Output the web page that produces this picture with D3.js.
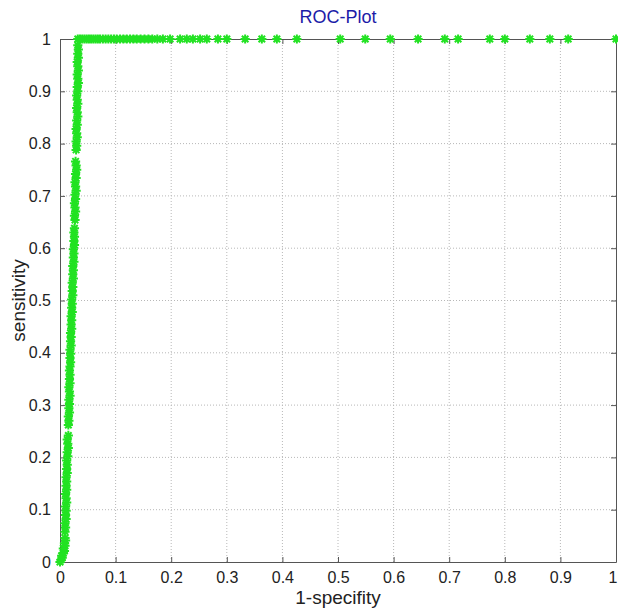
<!DOCTYPE html>
<html>
<head>
<meta charset="utf-8">
<script src="https://cdn.jsdelivr.net/npm/d3@7"></script>
<style>
body{margin:0;background:#fff;}
svg{display:block;font-family:"Liberation Sans",Arial,sans-serif;}
</style>
</head>
<body>
<div id="roc"></div>
<script>
(function(){

const width = 618;
const height = 608;
const margin = {top:39, right:2, bottom:46, left:60};

const ticks = [0,0.1,0.2,0.3,0.4,0.5,0.6,0.7,0.8,0.9,1];

// vertical part of the curve (rising section)
const curveFpr = [
0,0.002,0.004,0.003,0.006,0.008,0.006,0.009,0.008,0.010,0.009,
0.009,0.010,0.009,0.011,0.010,0.011,0.010,0.012,0.011,0.010,0.012,0.011,0.012,0.011,0.013,0.012,0.013,0.012,0.014,0.013,0.015,0.014,0.013,0.015,
0.015,0.016,0.015,0.017,0.016,0.017,0.016,0.018,0.017,0.016,0.018,0.017,0.018,0.017,0.018,0.019,0.018,0.019,0.018,0.020,0.019,0.020,0.019,0.021,0.020,0.021,0.020,0.022,0.021,0.022,0.021,0.023,0.022,0.023,0.022,0.024,0.023,0.024,0.023,0.025,0.024,0.025,0.024,0.026,0.025,0.026,0.025,0.026,
0.027,0.026,0.028,0.027,0.026,0.028,0.027,0.029,0.028,0.027,0.029,0.028,0.030,0.029,0.028,
0.029,0.030,0.029,0.031,0.030,0.029,0.031,0.030,0.032,0.031,0.030,0.032,0.031,0.030,0.032,0.031,0.033,0.032,0.031,0.033,0.032,0.031,0.033,0.032,0.033,0.032
];
const curveTpr = [
0,0.004,0.008,0.012,0.017,0.021,0.026,0.031,0.036,0.041,0.046,
0.058,0.066,0.074,0.082,0.090,0.098,0.106,0.114,0.122,0.130,0.138,0.146,0.154,0.162,0.170,0.178,0.186,0.194,0.202,0.210,0.218,0.226,0.234,0.242,
0.262,0.270,0.278,0.286,0.294,0.302,0.310,0.318,0.326,0.334,0.342,0.350,0.358,0.366,0.374,0.382,0.390,0.398,0.406,0.414,0.422,0.430,0.438,0.446,0.454,0.462,0.470,0.478,0.486,0.494,0.502,0.510,0.518,0.526,0.534,0.542,0.550,0.558,0.566,0.574,0.582,0.590,0.598,0.606,0.614,0.622,0.630,0.638,
0.654,0.662,0.670,0.678,0.686,0.694,0.702,0.710,0.718,0.726,0.734,0.742,0.750,0.758,0.766,
0.788,0.796,0.804,0.812,0.820,0.828,0.836,0.844,0.852,0.860,0.868,0.876,0.884,0.892,0.900,0.908,0.916,0.924,0.932,0.940,0.948,0.956,0.964,0.972,0.980,0.988
];

// points along sensitivity = 1
const topFpr = [
0.032,0.036,0.040,0.044,0.048,0.052,0.056,0.060,0.064,0.068,0.072,0.077,0.082,0.087,0.092,0.097,0.102,0.108,0.114,0.120,0.126,0.132,0.138,0.145,0.152,0.159,0.166,0.175,
0.185,0.198,0.216,0.228,0.239,0.252,0.264,0.284,0.300,0.333,0.363,0.390,0.426,0.504,0.549,0.594,0.644,0.692,0.716,0.773,0.800,0.845,0.881,0.914,1.0
];

const points = curveFpr.map((f,i)=>({fpr:f, tpr:curveTpr[i]}))
.concat(topFpr.map(f=>({fpr:f, tpr:1})));

const w = width - margin.left - margin.right;
const h = height - margin.top - margin.bottom;

const svg = d3.select("#roc")
.append("svg")
.attr("width",width)
.attr("height",height);

const g = svg.append("g")
.attr("transform",`translate(${margin.left},${margin.top})`);

const x = d3.scaleLinear().domain([0,1]).range([0,w]);
const y = d3.scaleLinear().domain([0,1]).range([h,0]);

// grid
g.append("g")
.selectAll("line")
.data(ticks.slice(1,-1))
.enter()
.append("line")
.attr("x1",d=>x(d)).attr("x2",d=>x(d))
.attr("y1",0).attr("y2",h)
.attr("stroke","#b8b8b8")
.attr("stroke-dasharray","1,2");

g.append("g")
.selectAll("line")
.data(ticks.slice(1,-1))
.enter()
.append("line")
.attr("y1",d=>y(d)).attr("y2",d=>y(d))
.attr("x1",0).attr("x2",w)
.attr("stroke","#b8b8b8")
.attr("stroke-dasharray","1,2");

// axes (MATLAB style: ticks inward, box on)
const axisStyle = sel=>{
sel.select(".domain").attr("stroke","#555");
sel.selectAll(".tick line").attr("stroke","#555");
sel.selectAll(".tick text").attr("fill","#222").style("font-size","16px");
};

const xAxis = g.append("g")
.attr("transform",`translate(0,${h})`)
.call(d3.axisBottom(x).tickValues(ticks).tickFormat(d3.format("")).tickSizeInner(-5).tickSizeOuter(0).tickPadding(10))
.call(axisStyle);

// keep the last label inside the window
xAxis.selectAll(".tick text")
.filter(d=>d===1)
.attr("text-anchor","end")
.attr("dx","0.05em");

g.append("g")
.call(d3.axisLeft(y).tickValues(ticks).tickFormat(d3.format("")).tickSizeInner(-5).tickSizeOuter(0).tickPadding(9))
.call(axisStyle);

g.append("g")
.call(d3.axisTop(x).tickValues(ticks).tickFormat("").tickSizeInner(-5).tickSizeOuter(0))
.call(axisStyle);

g.append("g")
.attr("transform",`translate(${w},0)`)
.call(d3.axisRight(y).tickValues(ticks).tickFormat("").tickSizeInner(-5).tickSizeOuter(0))
.call(axisStyle);

// asterisk markers
const r = 4.6;
const d45 = r*0.7071;
const star = `M${-r},0L${r},0M0,${-r}L0,${r}M${-d45},${-d45}L${d45},${d45}M${-d45},${d45}L${d45},${-d45}`;

g.append("g")
.selectAll("path")
.data(points)
.enter()
.append("path")
.attr("transform",d=>`translate(${x(d.fpr)},${y(d.tpr)})`)
.attr("d",star)
.attr("fill","none")
.attr("stroke","#22e222")
.attr("stroke-width",2);

// title and labels
svg.append("text")
.attr("x",margin.left + w/2)
.attr("y",23)
.attr("text-anchor","middle")
.attr("fill","#1c1ca8")
.style("font-size","18px")
.text("ROC-Plot");

svg.append("text")
.attr("x",margin.left + w/2)
.attr("y",604)
.attr("text-anchor","middle")
.attr("fill","#222")
.style("font-size","19px")
.text("1-specifity");

svg.append("text")
.attr("transform",`translate(25,${margin.top + h/2}) rotate(-90)`)
.attr("text-anchor","middle")
.attr("fill","#222")
.style("font-size","19px")
.text("sensitivity");

})();
</script>
</body>
</html>
